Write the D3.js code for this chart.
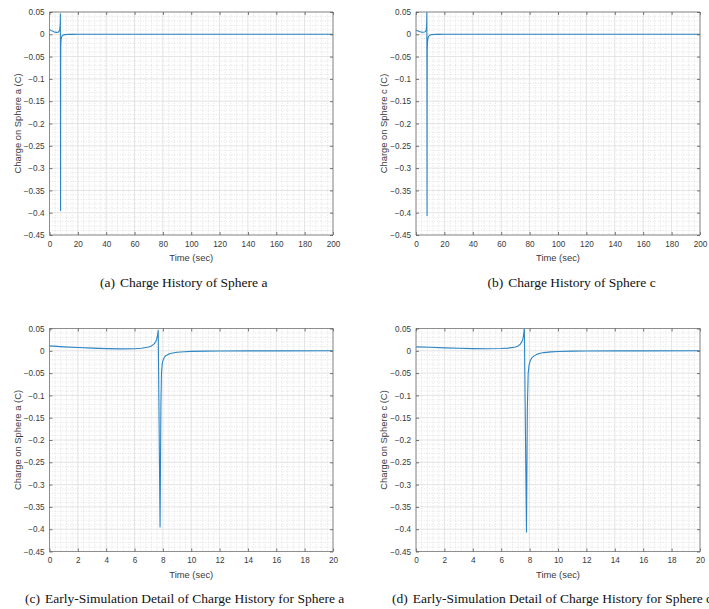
<!DOCTYPE html>
<html>
<head>
<meta charset="utf-8">
<script src="https://cdn.jsdelivr.net/npm/d3@7/dist/d3.min.js"></script>
<style>
  html, body { margin: 0; padding: 0; background: #fff; }
  svg { display: block; }
</style>
</head>
<body>
<svg id="chart" width="709" height="609"></svg>
<script>
// ---------- DATA ----------
const timeA   = [0, 1, 2, 3, 4, 5, 6, 6.5, 7, 7.2, 7.4, 7.5, 7.56, 7.6, 7.64, 7.67, 7.8, 7.86, 7.9, 7.95, 8.0, 8.1, 8.2, 8.4, 8.6, 8.8, 9.0, 9.5, 10, 11, 12, 14, 16, 20, 50, 100, 150, 200];
const chargeA = [0.011, 0.0088, 0.0073, 0.0059, 0.0048, 0.0044, 0.0047, 0.0057, 0.0085, 0.011, 0.016, 0.021, 0.026, 0.031, 0.039, 0.046, -0.395, -0.12, -0.05, -0.03, -0.022, -0.015, -0.011, -0.0075, -0.0055, -0.0042, -0.0033, -0.002, -0.0013, -0.0007, -0.0004, -0.0002, -0.0001, 0, 0, 0, 0, 0];

const timeC   = [0, 1, 2, 3, 4, 5, 6, 6.5, 7, 7.2, 7.35, 7.45, 7.52, 7.56, 7.6, 7.63, 7.78, 7.84, 7.9, 7.96, 8.05, 8.15, 8.3, 8.5, 8.75, 9.0, 9.5, 10, 11, 12, 14, 16, 20, 50, 100, 150, 200];
const chargeC = [0.0088, 0.0078, 0.0066, 0.0056, 0.0048, 0.0045, 0.005, 0.006, 0.0085, 0.011, 0.015, 0.02, 0.026, 0.032, 0.042, 0.053, -0.406, -0.13, -0.05, -0.032, -0.022, -0.016, -0.012, -0.008, -0.0055, -0.004, -0.0024, -0.0015, -0.0008, -0.0004, -0.0002, -0.0001, 0, 0, 0, 0, 0];

const yTicks      = [0.05, 0, -0.05, -0.1, -0.15, -0.2, -0.25, -0.3, -0.35, -0.4, -0.45];
const xTicksFull  = [0, 20, 40, 60, 80, 100, 120, 140, 160, 180, 200];
const xTicksEarly = [0, 2, 4, 6, 8, 10, 12, 14, 16, 18, 20];

const panels = [
  { id: "a", time: timeA, charge: chargeA, xMax: 200, xTicks: xTicksFull, minorX: 4,
    ylabel: "Charge on Sphere a (C)", tag: "(a)", caption: "Charge History of Sphere a",
    L: 49.5, T: 12, W: 283.5, H: 223, capX: 100, capY: 286.5 },
  { id: "b", time: timeC, charge: chargeC, xMax: 200, xTicks: xTicksFull, minorX: 4,
    ylabel: "Charge on Sphere c (C)", tag: "(b)", caption: "Charge History of Sphere c",
    L: 416, T: 12, W: 284, H: 223, capX: 487.5, capY: 286.5 },
  { id: "c", time: timeA, charge: chargeA, xMax: 20, xTicks: xTicksEarly, minorX: 0.4,
    ylabel: "Charge on Sphere a (C)", tag: "(c)", caption: "Early-Simulation Detail of Charge History for Sphere a",
    L: 49.5, T: 328.5, W: 283.5, H: 223, capX: 25, capY: 603 },
  { id: "d", time: timeC, charge: chargeC, xMax: 20, xTicks: xTicksEarly, minorX: 0.4,
    ylabel: "Charge on Sphere c (C)", tag: "(d)", caption: "Early-Simulation Detail of Charge History for Sphere c",
    L: 416, T: 328.5, W: 284, H: 223, capX: 392, capY: 603 }
];

// ---------- DRAW ----------
const svg = d3.select("#chart");
const sansFont = "'Liberation Sans', Arial, Helvetica, sans-serif";
const serifFont = "'Liberation Serif', 'Times New Roman', serif";
const boxColor = "#858585";
const textColor = "#3a3a3a";
const lineColor = "#2c85c4";

panels.forEach(p => {
  const x = d3.scaleLinear().domain([0, p.xMax]).range([p.L, p.L + p.W]);
  const y = d3.scaleLinear().domain([-0.45, 0.05]).range([p.T + p.H, p.T]);
  const g = svg.append("g");

  // minor grid
  const minorXs = d3.range(0, p.xMax + 1e-9, p.minorX).filter(v => !p.xTicks.some(t => Math.abs(t - v) < 1e-9));
  const minorYs = d3.range(-0.45, 0.05 + 1e-9, 0.01).filter(v => !yTicks.some(t => Math.abs(t - v) < 1e-9));
  g.selectAll(".mx").data(minorXs).enter().append("line")
    .attr("x1", d => x(d)).attr("x2", d => x(d)).attr("y1", p.T).attr("y2", p.T + p.H)
    .attr("stroke", "#cfcfcf").attr("stroke-width", 0.6).attr("stroke-dasharray", "1,1.6");
  g.selectAll(".my").data(minorYs).enter().append("line")
    .attr("x1", p.L).attr("x2", p.L + p.W).attr("y1", d => y(d)).attr("y2", d => y(d))
    .attr("stroke", "#cfcfcf").attr("stroke-width", 0.6).attr("stroke-dasharray", "1,1.6");

  // major grid
  g.selectAll(".gx").data(p.xTicks).enter().append("line")
    .attr("x1", d => x(d)).attr("x2", d => x(d)).attr("y1", p.T).attr("y2", p.T + p.H)
    .attr("stroke", "#dcdcdc").attr("stroke-width", 0.8);
  g.selectAll(".gy").data(yTicks).enter().append("line")
    .attr("x1", p.L).attr("x2", p.L + p.W).attr("y1", d => y(d)).attr("y2", d => y(d))
    .attr("stroke", "#dcdcdc").attr("stroke-width", 0.8);

  // data line (clipped)
  const clipId = "clip-" + p.id;
  svg.append("clipPath").attr("id", clipId).append("rect")
    .attr("x", p.L).attr("y", p.T).attr("width", p.W).attr("height", p.H);
  const pts = p.time.map((t, i) => [t, p.charge[i]]);
  g.append("path")
    .datum(pts)
    .attr("clip-path", "url(#" + clipId + ")")
    .attr("fill", "none")
    .attr("stroke", lineColor)
    .attr("stroke-width", 1.1)
    .attr("stroke-linejoin", "round")
    .attr("d", d3.line().x(d => x(d[0])).y(d => y(d[1])));

  // axes (ticks inward, box)
  const tickLen = 3;
  const fmt = d => (Math.abs(d) < 1e-12 ? "0" : d3.format("")(+d.toFixed(2)));
  const axB = d3.axisBottom(x).tickValues(p.xTicks).tickSize(-tickLen).tickPadding(6).tickFormat(d => String(d));
  const axT = d3.axisTop(x).tickValues(p.xTicks).tickSize(-tickLen).tickFormat("");
  const axL = d3.axisLeft(y).tickValues(yTicks).tickSize(-tickLen).tickPadding(5).tickFormat(fmt);
  const axR = d3.axisRight(y).tickValues(yTicks).tickSize(-tickLen).tickFormat("");

  const gB = g.append("g").attr("transform", `translate(0,${p.T + p.H})`).call(axB);
  const gT = g.append("g").attr("transform", `translate(0,${p.T})`).call(axT);
  const gL = g.append("g").attr("transform", `translate(${p.L},0)`).call(axL);
  const gR = g.append("g").attr("transform", `translate(${p.L + p.W},0)`).call(axR);
  [gB, gT, gL, gR].forEach(a => {
    a.select(".domain").attr("stroke", boxColor).attr("stroke-width", 0.9);
    a.selectAll(".tick line").attr("stroke", "#555").attr("stroke-width", 0.8);
    a.selectAll(".tick text").attr("fill", textColor).style("font-family", sansFont).style("font-size", "8.2px");
  });
  // remove outer tick stubs from domain path ends
  [gB, gT].forEach(a => a.select(".domain").attr("d", `M${p.L},0H${p.L + p.W}`));
  [gL, gR].forEach(a => a.select(".domain").attr("d", `M0,${p.T}V${p.T + p.H}`));

  // axis labels
  g.append("text")
    .attr("x", p.L + p.W / 2).attr("y", p.T + p.H + 26)
    .attr("text-anchor", "middle").attr("fill", textColor)
    .style("font-family", sansFont).style("font-size", "9.4px")
    .text("Time (sec)");
  g.append("text")
    .attr("transform", `translate(${p.L - 29},${p.T + p.H / 2}) rotate(-90)`)
    .attr("text-anchor", "middle").attr("fill", textColor)
    .style("font-family", sansFont).style("font-size", "9.4px")
    .text(p.ylabel);

  // caption
  const cap = g.append("text")
    .attr("x", p.capX).attr("y", p.capY)
    .attr("fill", "#111")
    .style("font-family", serifFont).style("font-size", "13.5px");
  cap.append("tspan").text(p.tag);
  cap.append("tspan").attr("dx", 5).text(p.caption);
});
</script>
</body>
</html>
